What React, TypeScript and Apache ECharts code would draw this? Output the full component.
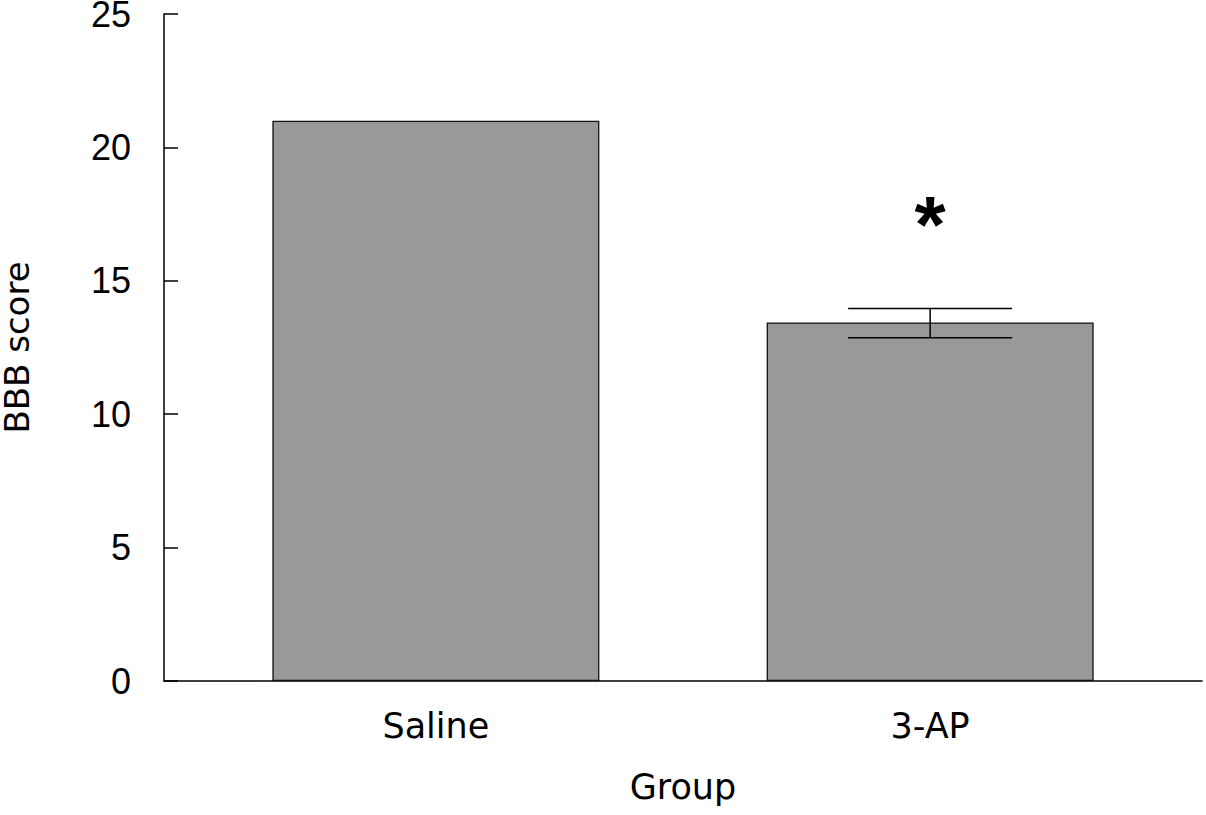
import React, { useEffect, useRef } from "react";
import * as echarts from "echarts";

const categories = ["Saline", "3-AP"];
const positions = [1, 2];
const means = [21.0, 13.44];
const errLow = [null, 12.87];
const errHigh = [null, 13.96];
const starPositions = [2];
const starValues = [17.1];
const yTicks = [0, 5, 10, 15, 20, 25];

const NUM_FONT = "'Liberation Sans', Arial, sans-serif";
const WORD_FONT = "'DejaVu Sans', 'Liberation Sans', sans-serif";

export default function App() {
  const ref = useRef<HTMLDivElement>(null);
  useEffect(() => {
    if (!ref.current) return;
    const chart = echarts.init(ref.current, null, { renderer: "svg" });
    const barData = positions.map((p, i) => [p, means[i]]);
    const errData = positions
      .map((p, i) => [p, errLow[i], errHigh[i]])
      .filter((d) => d[1] != null);
    const starData = starPositions.map((p, i) => [p, starValues[i]]);
    chart.setOption({
      animation: false,
      backgroundColor: "#ffffff",
      grid: {
        left: 164,
        right: 4,
        top: 14,
        bottom: 134,
        containLabel: false,
        outerBoundsMode: "none",
      },
      xAxis: {
        type: "value",
        min: 0.45,
        max: 2.55,
        name: "Group",
        nameLocation: "middle",
        nameGap: 88,
        nameTextStyle: { fontFamily: WORD_FONT, fontSize: 35, color: "#000" },
        axisLine: { show: true, onZero: false, lineStyle: { color: "#000", width: 1.5 } },
        axisTick: { show: false },
        splitLine: { show: false },
        axisLabel: {
          customValues: positions,
          formatter: (v: number) => categories[positions.indexOf(v)] ?? "",
          fontFamily: WORD_FONT,
          fontSize: 35,
          color: "#000",
          margin: 27,
        },
      },
      yAxis: {
        type: "value",
        min: 0,
        max: 25,
        interval: 5,
        name: "BBB score",
        nameLocation: "middle",
        nameGap: 134,
        nameTextStyle: { fontFamily: WORD_FONT, fontSize: 34, lineHeight: 26, color: "#000" },
        axisLine: { show: true, lineStyle: { color: "#000", width: 1.5 } },
        axisTick: { show: true, inside: true, length: 14, lineStyle: { color: "#000", width: 1.5 } },
        splitLine: { show: false },
        axisLabel: {
          fontFamily: NUM_FONT,
          fontSize: 36,
          lineHeight: 20,
          color: "#000",
          margin: 33,
          padding: [5, 0, 0, 0],
          formatter: (v: number) => (yTicks.includes(v) ? String(v) : ""),
        },
      },
      series: [
        {
          type: "bar",
          data: barData,
          barWidth: 327,
          itemStyle: { color: "#999999", borderColor: "#111", borderWidth: 1.3 },
        },
        {
          type: "custom",
          data: errData,
          renderItem: (params: any, api: any) => {
            const x = api.value(0);
            const lo = api.coord([x, api.value(1)]);
            const hi = api.coord([x, api.value(2)]);
            const hw = 82;
            const style = { stroke: "#000", lineWidth: 1.5 };
            return {
              type: "group",
              children: [
                { type: "line", shape: { x1: lo[0], y1: lo[1], x2: hi[0], y2: hi[1] }, style },
                { type: "line", shape: { x1: hi[0] - hw, y1: hi[1], x2: hi[0] + hw, y2: hi[1] }, style },
                { type: "line", shape: { x1: lo[0] - hw, y1: lo[1], x2: lo[0] + hw, y2: lo[1] }, style },
              ],
            };
          },
          z: 5,
        },
        {
          type: "custom",
          data: starData,
          renderItem: (params: any, api: any) => {
            const p = api.coord([api.value(0), api.value(1)]);
            return {
              type: "text",
              x: p[0],
              y: p[1],
              style: {
                text: "*",
                font: `bold 80px ${NUM_FONT}`,
                fill: "#000",
                align: "center",
                verticalAlign: "middle",
              },
            };
          },
          z: 6,
        },
      ],
    });
    return () => chart.dispose();
  }, []);
  return <div ref={ref} style={{ width: 1206, height: 815, position: "absolute", left: 0, top: 0 }} />;
}
